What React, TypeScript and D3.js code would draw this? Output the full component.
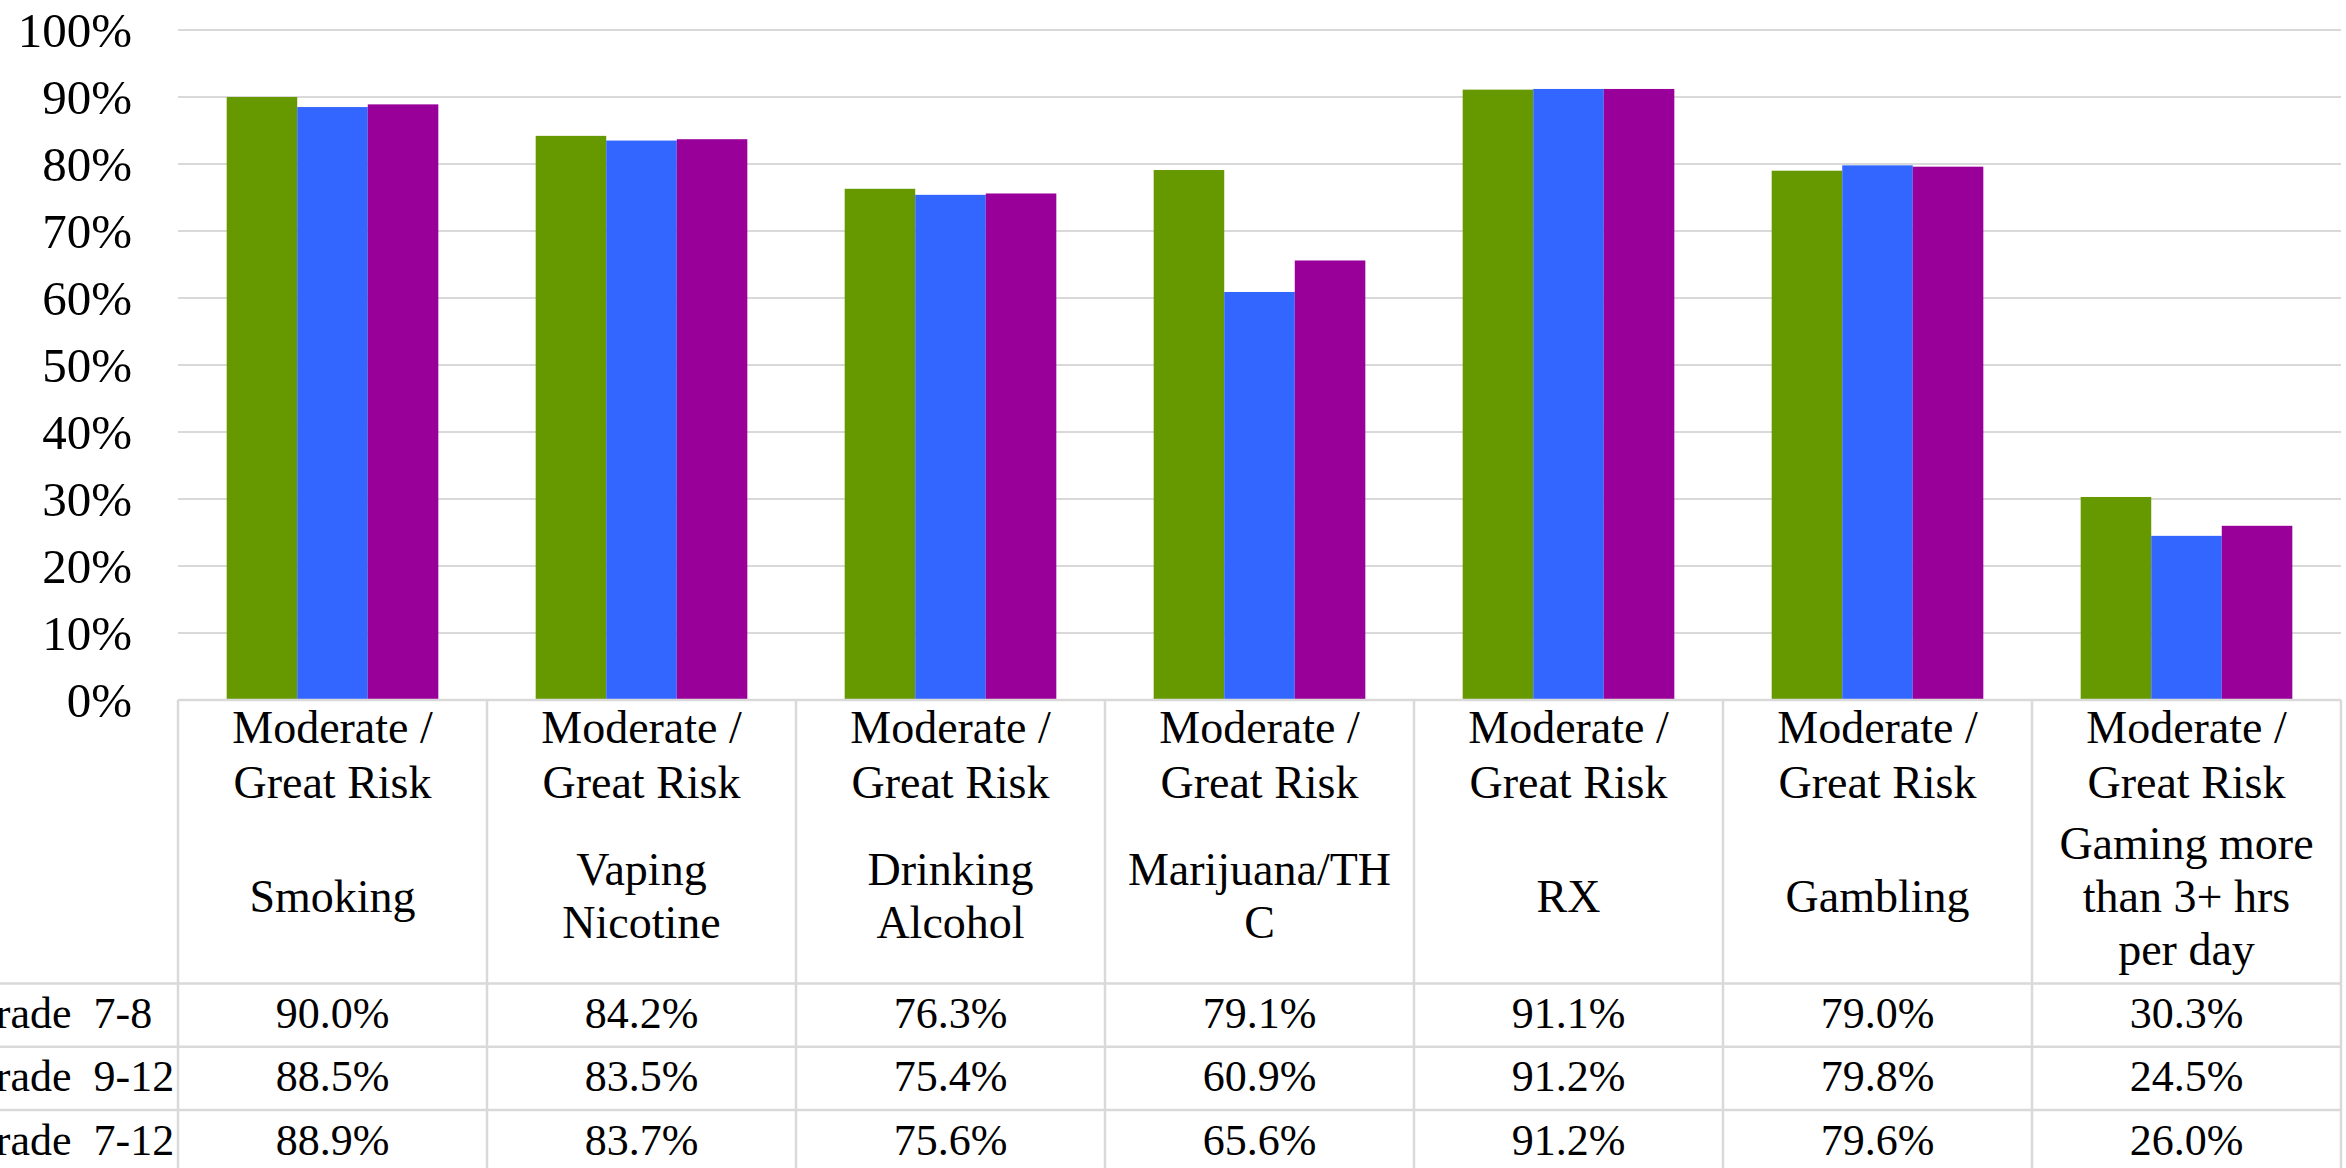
import React from 'react';
import * as d3 from 'd3';

// ---- data ----
const categories = ['Smoking', 'Vaping Nicotine', 'Drinking Alcohol', 'Marijuana/THC', 'RX', 'Gambling', 'Gaming more than 3+ hrs per day'];
const categoryLines = [
  ['Smoking'],
  ['Vaping', 'Nicotine'],
  ['Drinking', 'Alcohol'],
  ['Marijuana/TH', 'C'],
  ['RX'],
  ['Gambling'],
  ['Gaming more', 'than 3+ hrs', 'per day'],
];
const headerPrefix = ['Moderate /', 'Great Risk'];
const seriesNames = ['Grade  7-8', 'Grade  9-12', 'Grade  7-12'];
const grade78 = [90.0, 84.2, 76.3, 79.1, 91.1, 79.0, 30.3];
const grade912 = [88.5, 83.5, 75.4, 60.9, 91.2, 79.8, 24.5];
const grade712 = [88.9, 83.7, 75.6, 65.6, 91.2, 79.6, 26.0];
const seriesColors = ['#669900', '#3366FF', '#990099'];
const yTickValues = [0, 10, 20, 30, 40, 50, 60, 70, 80, 90, 100];

const seriesValues = [grade78, grade912, grade712];

// ---- layout ----
const W = 2346;
const H = 1168;
const plotLeft = 178;
const plotRight = 2341;
const yTop = 30;
const yBottom = 700;
const headerBottom = 983.5;
const rowH = 63.3;
const gapRatio = 1.38;
const FONT = 'Liberation Serif';
const gridColor = '#d9d9d9';

export default function App() {
  const x0 = d3.scaleBand<number>().domain(categories.map((_, i) => i)).range([plotLeft, plotRight]).padding(0);
  const bw = x0.bandwidth();
  const barW = bw / (3 + gapRatio);
  const gap = (bw - 3 * barW) / 2;
  const x1 = d3.scaleBand<number>().domain([0, 1, 2]).range([gap, bw - gap]).padding(0);
  const y = d3.scaleLinear().domain([0, 100]).range([yBottom, yTop]);
  const fmt = d3.format('.1f');

  const colEdges = categories.map((_, i) => x0(i) as number).concat([plotRight]);
  const rowTops = [headerBottom, headerBottom + rowH, headerBottom + 2 * rowH, headerBottom + 3 * rowH];
  const ts = { fontFamily: FONT };

  return (
    <svg width={W} height={H} style={{ position: 'absolute', left: 0, top: 0, background: '#fff' }}>
      <rect x={0} y={0} width={W} height={H} fill="#fff" />
      {yTickValues.map((t) => (
        <line key={'g' + t} x1={plotLeft} x2={plotRight} y1={y(t)} y2={y(t)} stroke={gridColor} strokeWidth={2} />
      ))}
      {yTickValues.map((t) => (
        <text key={'yl' + t} x={132} y={y(t)} dy="0.34em" textAnchor="end" fontSize={49} fill="#000" style={ts}>
          {t}%
        </text>
      ))}
      {seriesValues.map((vals, s) =>
        vals.map((v, i) => (
          <rect key={`b${s}-${i}`} x={(x0(i) as number) + (x1(s) as number)} y={y(v)} width={x1.bandwidth()} height={yBottom - y(v)} fill={seriesColors[s]} />
        ))
      )}
      <line x1={plotLeft} x2={plotRight} y1={yBottom} y2={yBottom} stroke={gridColor} strokeWidth={2.5} />
      {rowTops.map((ry, k) => (
        <line key={'h' + k} x1={0} x2={plotRight} y1={ry} y2={ry} stroke={gridColor} strokeWidth={2.5} />
      ))}
      {colEdges.map((cx, k) => (
        <line key={'v' + k} x1={cx} x2={cx} y1={yBottom} y2={H} stroke={gridColor} strokeWidth={2.5} />
      ))}
      {categories.map((c, i) => {
        const cx = (x0(i) as number) + bw / 2;
        const lines = categoryLines[i];
        const lh = 53;
        const center = 911.5;
        const first = center - ((lines.length - 1) * lh) / 2;
        return (
          <g key={'hd' + i}>
            {headerPrefix.map((p, k) => (
              <text key={k} x={cx} y={743 + k * 55} textAnchor="middle" fontSize={46} fill="#000" style={ts}>{p}</text>
            ))}
            {lines.map((l, k) => (
              <text key={'l' + k} x={cx} y={first + k * lh} textAnchor="middle" fontSize={46} fill="#000" style={ts}>{l}</text>
            ))}
          </g>
        );
      })}
      {seriesNames.map((n, s) => (
        <g key={'r' + s}>
          <text x={-36} y={rowTops[s] + 44.5} fontSize={44} fill="#000" style={{ ...ts, whiteSpace: 'pre' }}>{n}</text>
          {seriesValues[s].map((v, i) => (
            <text key={i} x={(x0(i) as number) + bw / 2} y={rowTops[s] + 44.5} textAnchor="middle" fontSize={44} fill="#000" style={ts}>{fmt(v)}%</text>
          ))}
        </g>
      ))}
    </svg>
  );
}
